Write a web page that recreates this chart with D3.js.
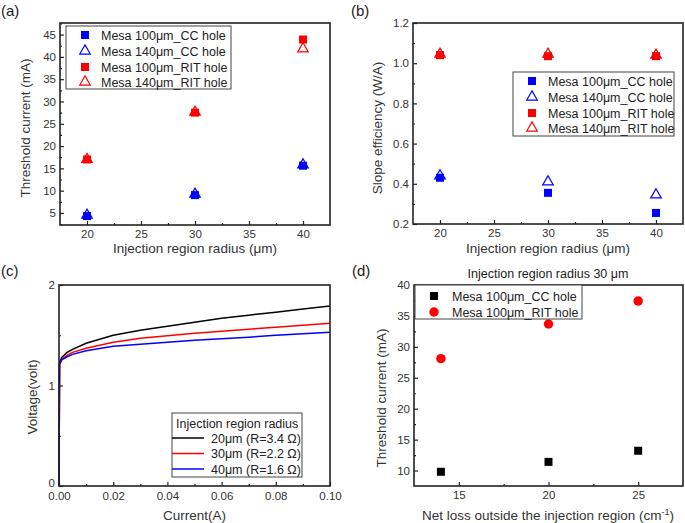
<!DOCTYPE html>
<html>
<head>
<meta charset="utf-8">
<script src="https://cdn.jsdelivr.net/npm/d3@7/dist/d3.min.js"></script>
<style>
  body { margin: 0; background: #fff; }
  svg { display: block; font-family: "Liberation Sans", Arial, sans-serif; }
</style>
</head>
<body>
<svg id="chart" width="685" height="523"></svg>
<script>
"use strict";

// ---- data ----
const radius = [20, 30, 40];

// (a) threshold current (mA)
const thA_cc100 = [4.3, 9.0, 15.6];
const thA_cc140 = [4.5, 9.2, 15.8];
const thA_rit100 = [17.0, 27.5, 43.9];
const thA_rit140 = [17.0, 27.6, 41.8];

// (b) slope efficiency (W/A)
const seB_cc100 = [0.43, 0.355, 0.255];
const seB_cc140 = [0.44, 0.41, 0.345];
const seB_rit100 = [1.04, 1.035, 1.035];
const seB_rit140 = [1.045, 1.045, 1.04];

// (c) I-V curves
const ivCurrent = [0, 0.0002, 0.001, 0.003, 0.005, 0.01, 0.02, 0.03, 0.04, 0.05, 0.06, 0.07, 0.08, 0.09, 0.1];
const ivV20 = [0, 1.22, 1.28, 1.33, 1.36, 1.42, 1.50, 1.55, 1.59, 1.63, 1.67, 1.70, 1.73, 1.76, 1.79];
const ivV30 = [0, 1.21, 1.26, 1.30, 1.33, 1.37, 1.43, 1.47, 1.495, 1.52, 1.54, 1.56, 1.58, 1.60, 1.62];
const ivV40 = [0, 1.21, 1.255, 1.285, 1.31, 1.345, 1.39, 1.41, 1.43, 1.45, 1.465, 1.48, 1.50, 1.515, 1.53];
const ivLabels = ["20\u03bcm (R=3.4 \u03a9)", "30\u03bcm (R=2.2 \u03a9)", "40\u03bcm (R=1.6 \u03a9)"];

// (d) threshold vs net loss
const netLoss = [14, 20, 25];
const thD_cc = [9.8, 11.4, 13.2];
const thD_rit = [28.1, 33.7, 37.4];

const legendNames4 = ["Mesa 100\u03bcm_CC hole", "Mesa 140\u03bcm_CC hole", "Mesa 100\u03bcm_RIT hole", "Mesa 140\u03bcm_RIT hole"];
const legendNamesD = ["Mesa 100\u03bcm_CC hole", "Mesa 100\u03bcm_RIT hole"];

const BLUE = "#0000ff", RED = "#ff0000", BLACK = "#000";
const frameColor = "#222";
const tickText = "#333";

const svg = d3.select("#chart");

function range(a, b, step) {
    const out = [];
    for (let v = a; v <= b + 1e-9; v += step) out.push(+v.toFixed(6));
    return out;
}

// frame + inward ticks, origin style
function drawFrame(box, x, y, opt) {
    const g = svg.append("g");
    const xAx = d3.axisBottom(x).tickValues(opt.xMajor).tickSize(-4).tickPadding(opt.xPad || 5)
        .tickFormat(opt.xFmt || d3.format("d"));
    const xMin = d3.axisBottom(x).tickValues(opt.xMinor).tickSize(-2).tickFormat("");
    const yAx = d3.axisLeft(y).tickValues(opt.yMajor).tickSize(-4).tickPadding(4)
        .tickFormat(opt.yFmt || d3.format("d"));
    const yMin = d3.axisLeft(y).tickValues(opt.yMinor).tickSize(-2).tickFormat("");

    const groups = [];
    for (const [ax, tr] of [[xAx, `translate(0,${box.bottom})`], [xMin, `translate(0,${box.bottom})`],
                           [yAx, `translate(${box.left},0)`], [yMin, `translate(${box.left},0)`]]) {
        const a = g.append("g").attr("transform", tr).call(ax);
        a.select(".domain").remove();
        a.selectAll("line").attr("stroke", frameColor).attr("stroke-width", 1.2);
        a.selectAll("text").attr("fill", tickText).style("font-size", "11.5px");
        groups.push(a);
    }
    if (opt.yZeroUp) {
        // lift the lowest y label a little so it clears the x labels
        groups[2].selectAll(".tick text").filter(d => d === opt.yMajor[0]).attr("dy", "0.05em");
    }
    g.append("rect")
        .attr("x", box.left).attr("y", box.top)
        .attr("width", box.right - box.left).attr("height", box.bottom - box.top)
        .attr("fill", "none").attr("stroke", frameColor).attr("stroke-width", 1.6);

    // axis titles
    svg.append("text")
        .attr("x", (box.left + box.right) / 2).attr("y", opt.xTitleY)
        .attr("text-anchor", "middle").attr("fill", tickText)
        .style("font-size", "13.5px").text(opt.xTitle);
    svg.append("text")
        .attr("transform", `translate(${opt.yTitleX},${opt.yTitleC}) rotate(-90)`)
        .attr("text-anchor", "middle").attr("fill", tickText)
        .style("font-size", "13.5px").text(opt.yTitle);
}

function marker(sel, kind, color) {
    if (kind === "square") {
        sel.attr("d", d3.symbol(d3.symbolSquare, 64)()).attr("fill", color).attr("stroke", "none");
    } else if (kind === "triangle") {
        sel.attr("d", d3.symbol(d3.symbolTriangle, 48)()).attr("fill", "none")
            .attr("stroke", color).attr("stroke-width", 1.2);
    } else {
        sel.attr("d", d3.symbol(d3.symbolCircle, 70)()).attr("fill", color).attr("stroke", "none");
    }
}

function drawSeries(xs, ys, x, y, kind, color) {
    svg.append("g").selectAll("path").data(d3.zip(xs, ys)).enter().append("path")
        .attr("transform", d => `translate(${x(d[0])},${y(d[1])})`)
        .call(marker, kind, color);
}

function drawLegend(box, rows, mx, tx, rowY) {
    svg.append("rect")
        .attr("x", box.x).attr("y", box.y).attr("width", box.w).attr("height", box.h)
        .attr("fill", "#fff").attr("stroke", "#444").attr("stroke-width", 1);
    rows.forEach((r, i) => {
        svg.append("path").attr("transform", `translate(${mx},${rowY[i]})`).call(marker, r.kind, r.color);
        svg.append("text").attr("x", tx).attr("y", rowY[i] + 4.5).attr("fill", "#222")
            .style("font-size", "12.5px").text(r.name);
    });
}

function panelLabel(txt, px, py) {
    svg.append("text").attr("x", px).attr("y", py).attr("fill", "#222")
        .style("font-size", "15px").text(txt);
}

// ---- (a) ----
{
    const box = {left: 60, right: 330, top: 23, bottom: 225};
    const x = d3.scaleLinear().domain([17.5, 42.5]).range([box.left, box.right]);
    const y = d3.scaleLinear().domain([2.3, 47.6]).range([box.bottom, box.top]);
    drawFrame(box, x, y, {
        xMajor: range(20, 40, 5), xMinor: range(22.5, 37.5, 5),
        yMajor: range(5, 45, 5), yMinor: range(2.5, 47.5, 5),
        xTitle: "Injection region radius (\u03bcm)", xTitleY: 253,
        yTitle: "Threshold current (mA)", yTitleX: 30, yTitleC: 128
    });
    drawSeries(radius, thA_cc100, x, y, "square", BLUE);
    drawSeries(radius, thA_cc140, x, y, "triangle", BLUE);
    drawSeries(radius, thA_rit100, x, y, "square", RED);
    drawSeries(radius, thA_rit140, x, y, "triangle", RED);
    const kinds = ["square", "triangle", "square", "triangle"];
    const cols = [BLUE, BLUE, RED, RED];
    drawLegend({x: 66, y: 26, w: 165, h: 63},
        legendNames4.map((n, i) => ({name: n, kind: kinds[i], color: cols[i]})),
        85, 101, [35, 51, 67, 82]);
    panelLabel("(a)", 1, 16);
}

// ---- (b) ----
{
    const box = {left: 413, right: 683, top: 23, bottom: 224};
    const x = d3.scaleLinear().domain([17.5, 42.5]).range([box.left, box.right]);
    const y = d3.scaleLinear().domain([0.2, 1.2]).range([box.bottom, box.top]);
    drawFrame(box, x, y, {
        xMajor: range(20, 40, 5), xMinor: range(22.5, 37.5, 5),
        yMajor: range(0.2, 1.2, 0.2), yMinor: range(0.3, 1.1, 0.2),
        yFmt: d3.format(".1f"),
        xTitle: "Injection region radius (\u03bcm)", xTitleY: 253,
        yTitle: "Slope efficiency (W/A)", yTitleX: 382, yTitleC: 128
    });
    drawSeries(radius, seB_cc100, x, y, "square", BLUE);
    drawSeries(radius, seB_cc140, x, y, "triangle", BLUE);
    drawSeries(radius, seB_rit100, x, y, "square", RED);
    drawSeries(radius, seB_rit140, x, y, "triangle", RED);
    const kinds = ["square", "triangle", "square", "triangle"];
    const cols = [BLUE, BLUE, RED, RED];
    drawLegend({x: 513, y: 72, w: 161, h: 64},
        legendNames4.map((n, i) => ({name: n, kind: kinds[i], color: cols[i]})),
        532, 548, [81, 97, 113, 128]);
    panelLabel("(b)", 351, 16);
}

// ---- (c) ----
{
    const box = {left: 59, right: 330, top: 285, bottom: 486};
    const x = d3.scaleLinear().domain([0, 0.1]).range([box.left, box.right]);
    const y = d3.scaleLinear().domain([0, 2]).range([box.bottom, box.top]);
    const line = d3.line().x(d => x(d[0])).y(d => y(d[1]));
    const series = [ivV20, ivV30, ivV40];
    const cols = [BLACK, RED, BLUE];
    series.forEach((vs, i) => {
        svg.append("path").datum(d3.zip(ivCurrent, vs))
            .attr("d", line).attr("fill", "none")
            .attr("stroke", cols[i]).attr("stroke-width", 1.5);
    });
    drawFrame(box, x, y, {
        xMajor: range(0, 0.1, 0.02), xMinor: range(0.01, 0.09, 0.02),
        yMajor: [0, 1, 2], yMinor: [0.5, 1.5],
        xFmt: d3.format(".2f"), xPad: 6, yZeroUp: true,
        xTitle: "Current(A)", xTitleY: 520,
        yTitle: "Voltage(volt)", yTitleX: 37, yTitleC: 397
    });
    // legend
    svg.append("rect").attr("x", 172).attr("y", 413).attr("width", 130).attr("height", 64)
        .attr("fill", "#fff").attr("stroke", "#444").attr("stroke-width", 1);
    svg.append("text").attr("x", 176).attr("y", 427.5).attr("fill", "#222")
        .style("font-size", "12.5px").text("Injection region radius");
    const rowY = [438, 453.5, 469];
    ivLabels.forEach((t, i) => {
        svg.append("line").attr("x1", 172).attr("x2", 204).attr("y1", rowY[i]).attr("y2", rowY[i])
            .attr("stroke", cols[i]).attr("stroke-width", 1.5);
        svg.append("text").attr("x", 211).attr("y", rowY[i] + 4.5).attr("fill", "#222")
            .style("font-size", "12.5px").text(t);
    });
    panelLabel("(c)", 1, 276);
}

// ---- (d) ----
{
    const box = {left: 414, right: 683, top: 285, bottom: 486};
    const x = d3.scaleLinear().domain([12.5, 27.5]).range([box.left, box.right]);
    const y = d3.scaleLinear().domain([7.5, 40]).range([box.bottom, box.top]);
    drawFrame(box, x, y, {
        xMajor: [15, 20, 25], xMinor: [17.5, 22.5],
        yMajor: range(10, 40, 5), yMinor: range(12.5, 37.5, 5),
        xTitle: "", xTitleY: 520,
        yTitle: "Threshold current (mA)", yTitleX: 386, yTitleC: 398
    });
    const xt = svg.append("text").attr("x", 548).attr("y", 520)
        .attr("text-anchor", "middle").attr("fill", tickText).style("font-size", "13.5px");
    xt.append("tspan").text("Net loss outside the injection region (cm");
    xt.append("tspan").attr("dy", -5).style("font-size", "9px").text("-1");
    xt.append("tspan").attr("dy", 5).text(")");
    svg.append("text").attr("x", 548).attr("y", 278).attr("text-anchor", "middle")
        .attr("fill", "#222").style("font-size", "12.5px").text("Injection region radius 30 \u03bcm");
    drawSeries(netLoss, thD_cc, x, y, "square", BLACK);
    drawSeries(netLoss, thD_rit, x, y, "circle", RED);
    drawLegend({x: 415, y: 285, w: 167, h: 34},
        legendNamesD.map((n, i) => ({name: n, kind: i ? "circle" : "square", color: i ? RED : BLACK})),
        434, 452, [296, 312]);
    panelLabel("(d)", 352, 276);
}
</script>
</body>
</html>
